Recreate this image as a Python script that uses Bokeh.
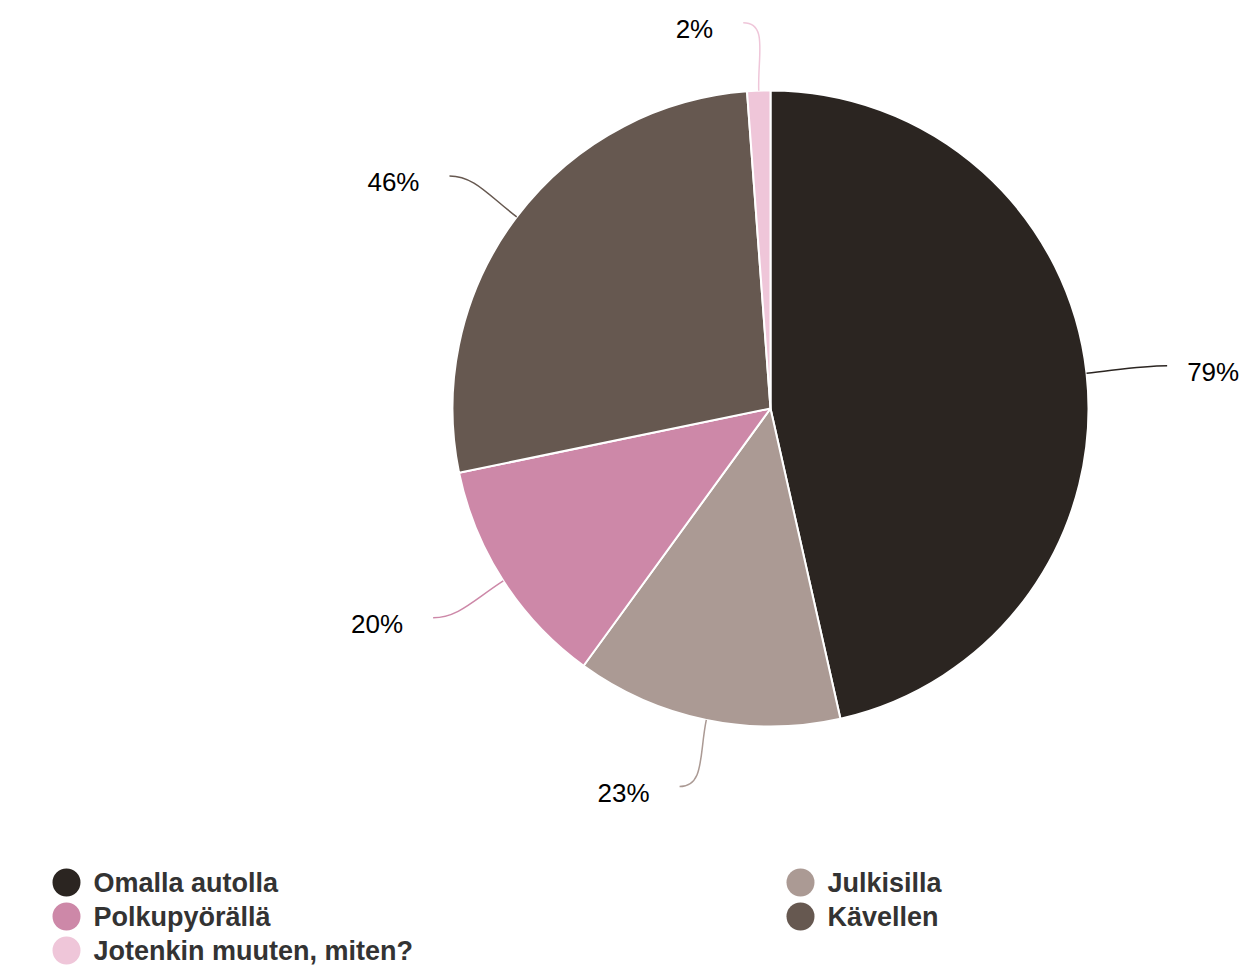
import math
from bokeh.plotting import figure
from bokeh.models import Range1d
from bokeh.core.properties import value
from bokeh.embed import file_html
from bokeh.resources import INLINE

# ---- data ----
categories = ["Omalla autolla", "Julkisilla", "Polkupyörällä", "Kävellen", "Jotenkin muuten, miten?"]
percents = [79, 23, 20, 46, 2]
colors = ["#2B2521", "#AB9A94", "#CD88A8", "#665850", "#EFC6D9"]
legend_order = ["Omalla autolla", "Julkisilla", "Polkupyörällä", "Kävellen", "Jotenkin muuten, miten?"]

W, H = 1257, 968
p = figure(width=W, height=H, output_backend="svg", toolbar_location=None,
           x_range=Range1d(0, W), y_range=Range1d(0, H), min_border=0)
p.axis.visible = False
p.grid.visible = False
p.outline_line_color = None
p.background_fill_color = "white"
p.border_fill_color = "white"

cx, cy, r = 770, 560, 318
total = sum(percents)
cum = 0
starts, ends, mids = [], [], []
for v in percents:
    a0 = cum / total * 2 * math.pi
    cum += v
    a1 = cum / total * 2 * math.pi
    starts.append(math.pi / 2 - a0)
    ends.append(math.pi / 2 - a1)
    mids.append((a0 + a1) / 2)

p.wedge(x=[cx] * len(percents), y=[cy] * len(percents), radius=r,
        start_angle=starts, end_angle=ends, direction="clock",
        fill_color=colors, line_color="white", line_width=2)

# connectors + labels
R2, h = 386, 13
for v, col, m in zip(percents, colors, mids):
    dx, dy = math.sin(m), math.cos(m)  # y up
    side = 1 if dx >= 0 else -1
    sx, sy = cx + r * dx, cy + r * dy
    ex, ey = cx + R2 * dx + side * h, cy + R2 * dy
    c0x, c0y = sx + 35 * dx, sy + 35 * dy
    c1x, c1y = ex - side * 25, ey
    p.bezier(x0=[sx], y0=[sy], x1=[ex], y1=[ey], cx0=[c0x], cy0=[c0y], cx1=[c1x], cy1=[c1y],
             line_color=col, line_width=1.5)
    tx = ex + side * 20 if side > 0 else ex - 30
    p.text(x=[tx], y=[ey - 6], text=[f"{v}%"], text_align="left" if side > 0 else "right",
           text_baseline="middle", text_font=value("Liberation Sans"),
           text_font_size="26px", text_color="#000000")

# legend (two columns, row-major)
col_x = [66, 800]
row_y = [H - 882, H - 916, H - 950]
for i, name in enumerate(legend_order):
    ci = i % 2
    ri = i // 2
    c = colors[categories.index(name)]
    p.scatter(x=[col_x[ci]], y=[row_y[ri]], size=28, marker="circle", fill_color=c, line_color=None)
    p.text(x=[col_x[ci] + 27], y=[row_y[ri]], text=[name], text_align="left", text_baseline="middle",
           text_font=value("Liberation Sans"), text_font_style="bold", text_font_size="27px",
           text_color="#333333")

open("out.html", "w").write(file_html(p, INLINE))
